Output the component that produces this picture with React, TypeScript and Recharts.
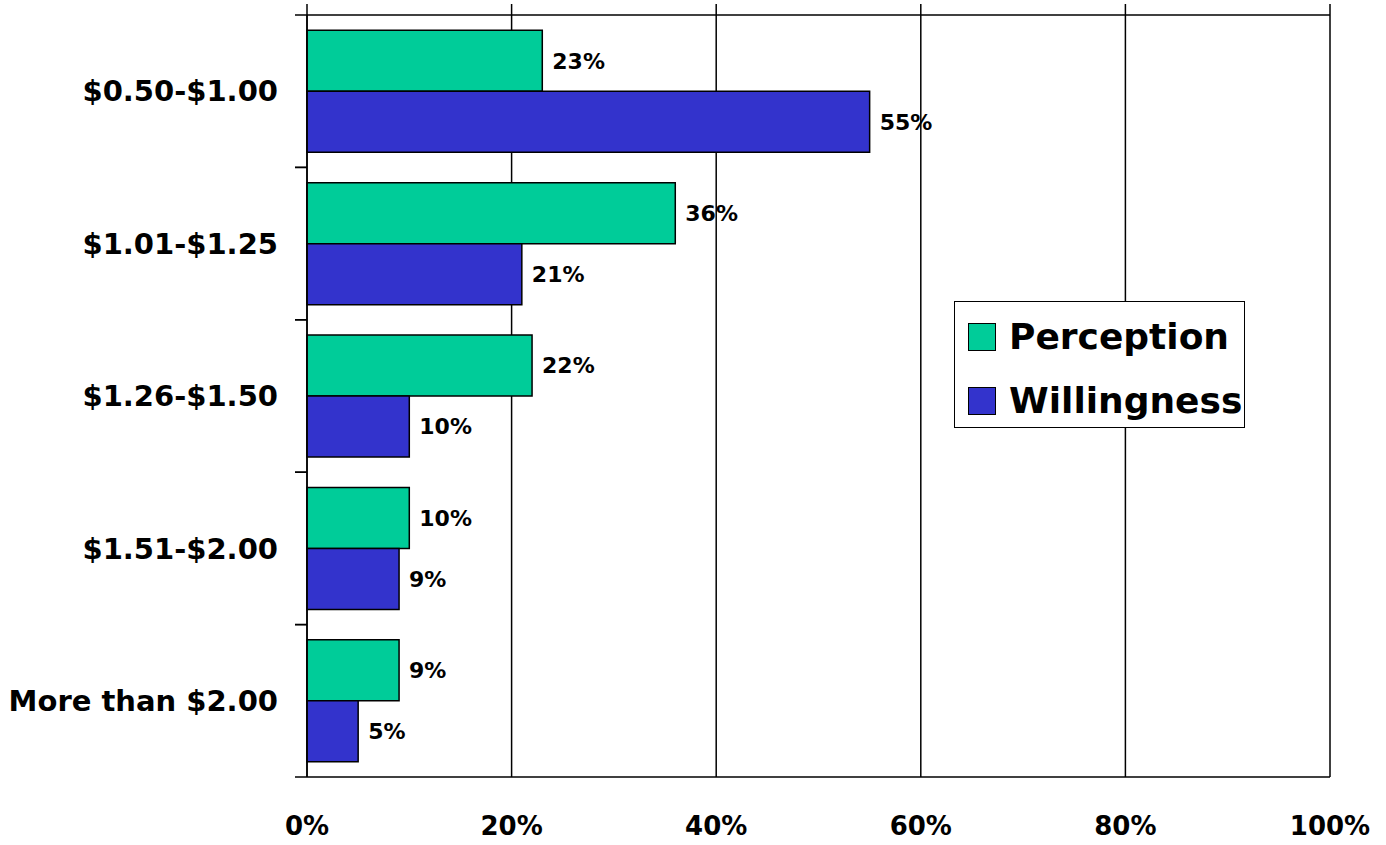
import React from 'react';
import { BarChart, Bar, XAxis, YAxis, CartesianGrid, Legend, LabelList } from 'recharts';

const categories = ['$0.50-$1.00', '$1.01-$1.25', '$1.26-$1.50', '$1.51-$2.00', 'More than $2.00'];
const perception = [23, 36, 22, 10, 9];
const willingness = [55, 21, 10, 9, 5];
const xTicks = [0, 20, 40, 60, 80, 100];

const seriesInfo = [
  { key: 'perception', name: 'Perception', color: '#00CC99' },
  { key: 'willingness', name: 'Willingness', color: '#3333CC' },
];

const data = categories.map((name, i) => ({
  name,
  perception: perception[i],
  willingness: willingness[i],
}));

const FONT = '"DejaVu Sans", sans-serif';
const Y_TICK_SIZE = 6;
const Y_TICK_MARGIN = 23;
const EDGE_TICK = 12;

const LegendBox = () => (
  <div
    style={{
      border: '1.5px solid #000',
      background: '#fff',
      boxSizing: 'border-box',
      width: 291,
      height: 127,
      padding: '3px 0 0 13px',
      fontFamily: FONT,
    }}
  >
    {seriesInfo.map((s) => (
      <div key={s.key} style={{ display: 'flex', alignItems: 'center', height: 64 }}>
        <span
          style={{
            display: 'inline-block',
            width: 28,
            height: 28,
            background: s.color,
            border: '1.5px solid #000',
            boxSizing: 'border-box',
            marginRight: 13,
          }}
        />
        <span style={{ fontSize: 36, fontWeight: 'bold', color: '#000', lineHeight: 1 }}>{s.name}</span>
      </div>
    ))}
  </div>
);

const CategoryTick = (props: any) => {
  const { x, y, payload } = props;
  const half = payload && typeof payload.offset === 'number' ? payload.offset : 0;
  const axisX = x + Y_TICK_SIZE + Y_TICK_MARGIN;
  return (
    <g>
      {half > 0 && (
        <>
          <line x1={axisX - EDGE_TICK} x2={axisX} y1={y - half} y2={y - half} stroke="#000" strokeWidth={1.5} />
          <line x1={axisX - EDGE_TICK} x2={axisX} y1={y + half} y2={y + half} stroke="#000" strokeWidth={1.5} />
        </>
      )}
      <text x={x} y={y} dy="0.355em" textAnchor="end" fill="#000" fontSize={29} fontWeight="bold" fontFamily={FONT}>
        {payload.value}
      </text>
    </g>
  );
};

const blank = () => '';

export default function App() {
  return (
    <div style={{ position: 'absolute', left: 0, top: 0, fontFamily: FONT }}>
      <BarChart
        width={1386}
        height={845}
        data={data}
        layout="vertical"
        margin={{ top: 4, right: 56, left: 0, bottom: 0 }}
        barCategoryGap="10%"
        barGap={0}
      >
        <CartesianGrid horizontal={false} stroke="#000" strokeWidth={1.5} />
        <XAxis
          type="number"
          domain={[0, 100]}
          ticks={xTicks}
          tickFormatter={(v) => `${v}%`}
          axisLine={{ stroke: '#000', strokeWidth: 1.5 }}
          tickLine={false}
          tickSize={6}
          tickMargin={34}
          height={68}
          tick={{ fill: '#000', fontSize: 26, fontWeight: 'bold' }}
          interval={0}
        />
        <XAxis
          xAxisId="top"
          orientation="top"
          type="number"
          domain={[0, 100]}
          allowDataOverflow
          ticks={xTicks}
          tickFormatter={blank}
          tickSize={11}
          tickMargin={0}
          height={11}
          axisLine={{ stroke: '#000', strokeWidth: 1.5 }}
          tickLine={{ stroke: '#000', strokeWidth: 1.5 }}
          interval={0}
        />
        <YAxis
          type="category"
          dataKey="name"
          width={307}
          axisLine={{ stroke: '#000', strokeWidth: 1.5 }}
          tickLine={false}
          tickSize={Y_TICK_SIZE}
          tickMargin={Y_TICK_MARGIN}
          tick={<CategoryTick />}
          interval={0}
        />
        <Legend
          content={<LegendBox />}
          layout="horizontal"
          verticalAlign="middle"
          align="center"
          wrapperStyle={{ position: 'absolute', left: 954, top: 301, width: 291, height: 127 }}
        />
        {seriesInfo.map((s) => (
          <Bar
            key={s.key}
            dataKey={s.key}
            name={s.name}
            fill={s.color}
            stroke="#000"
            strokeWidth={1.5}
            isAnimationActive={false}
          >
            <LabelList
              dataKey={s.key}
              position="right"
              offset={10}
              formatter={(v: number) => `${v}%`}
              fill="#000"
              fontSize={22}
              fontWeight="bold"
            />
          </Bar>
        ))}
      </BarChart>
    </div>
  );
}
